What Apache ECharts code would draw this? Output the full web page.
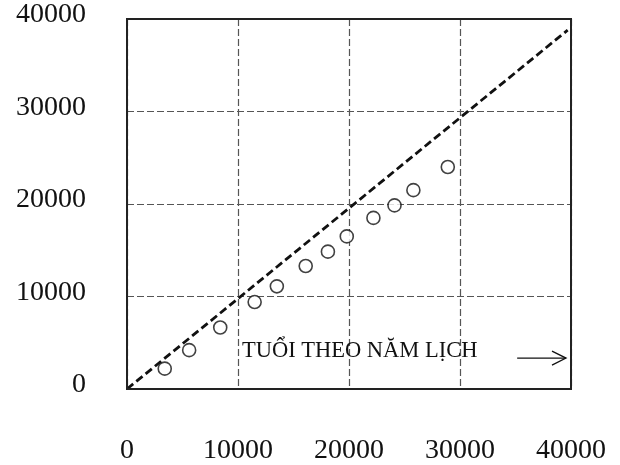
<!DOCTYPE html>
<html>
<head>
<meta charset="utf-8">
<script src="https://cdn.jsdelivr.net/npm/echarts@6/dist/echarts.min.js"></script>
<style>html,body{margin:0;padding:0;background:#fff}#c{width:620px;height:465px}</style>
</head>
<body>
<div id="c"></div>
<script>
// Data
const xTicks = [0, 10000, 20000, 30000, 40000];
const yTicks = [0, 10000, 20000, 30000, 40000];
const pointsX = [3400, 5600, 8400, 11500, 13500, 16100, 18100, 19800, 22200, 24100, 25800, 28900];
const pointsY = [2200, 4200, 6650, 9400, 11100, 13300, 14850, 16500, 18500, 19850, 21500, 24000];
const diagonalX = [0, 39700];
const diagonalY = [0, 38800];
const annotationText = 'TUỔI THEO NĂM LỊCH';
const annotationAt = [10350, 4100];
const arrowFrom = [35150, 3340];
const arrowTo = [39550, 3340];

const FONT = '"Liberation Serif", "DejaVu Serif", serif';
const chart = echarts.init(document.getElementById('c'), null, {renderer: 'canvas'});
const plain = v => String(v);

const option = {
  animation: false,
  backgroundColor: '#fff',
  grid: {left: 127, right: 49, top: 19, bottom: 75, containLabel: false},
  xAxis: {
    type: 'value', min: xTicks[0], max: xTicks[xTicks.length - 1], interval: xTicks[1] - xTicks[0],
    axisLine: {show: true, lineStyle: {color: '#222', width: 2}},
    axisTick: {show: false},
    axisLabel: {color: '#111', fontFamily: FONT, fontSize: 28, margin: 48, formatter: plain, showMinLabel: true, showMaxLabel: true},
    splitLine: {show: true, lineStyle: {color: '#555', width: 1.2, type: [7, 3]}}
  },
  yAxis: {
    type: 'value', min: yTicks[0], max: yTicks[yTicks.length - 1], interval: yTicks[1] - yTicks[0],
    axisLine: {show: true, lineStyle: {color: '#222', width: 2}},
    axisTick: {show: false},
    axisLabel: {
      color: '#111', fontFamily: FONT, fontSize: 28, margin: 41, showMinLabel: true, showMaxLabel: true,
      formatter: v => '{a|' + v + '}',
      rich: {a: {fontFamily: FONT, fontSize: 28, color: '#111', padding: [0, 0, 8, 0]}}
    },
    splitLine: {show: true, lineStyle: {color: '#555', width: 1.2, type: [7, 3]}}
  },
  series: [
    {
      type: 'line',
      data: diagonalX.map((x, i) => [x, diagonalY[i]]),
      symbol: 'none',
      lineStyle: {color: '#111', width: 2.8, type: [8, 4]},
      z: 3
    },
    {
      type: 'scatter',
      data: pointsX.map((x, i) => [x, pointsY[i]]),
      symbol: 'circle',
      symbolSize: 13,
      itemStyle: {color: '#fff', borderColor: '#111', borderWidth: 1.6},
      z: 4
    }
  ]
};
chart.setOption(option);

function drawExtras() {
  const gr = chart.getModel().getComponent('grid').coordinateSystem.getRect();
  const t = chart.convertToPixel({gridIndex: 0}, annotationAt);
  const a0 = chart.convertToPixel({gridIndex: 0}, arrowFrom);
  const a1 = chart.convertToPixel({gridIndex: 0}, arrowTo);
  chart.setOption({
    graphic: [
      {type: 'rect', silent: true, z: 10,
       shape: {x: gr.x, y: gr.y, width: gr.width, height: gr.height},
       style: {fill: 'none', stroke: '#222', lineWidth: 2}},
      {type: 'text', silent: true, z: 10, x: t[0], y: t[1],
       style: {text: annotationText, font: '22.5px ' + FONT, fill: '#111', verticalAlign: 'middle'}},
      {type: 'line', silent: true, z: 10,
       shape: {x1: a0[0], y1: a0[1], x2: a1[0], y2: a1[1]},
       style: {stroke: '#111', lineWidth: 1.3}},
      {type: 'polyline', silent: true, z: 10,
       shape: {points: [[a1[0] - 14, a1[1] - 7], [a1[0], a1[1]], [a1[0] - 14, a1[1] + 7]]},
       style: {stroke: '#111', lineWidth: 1.3, fill: 'none'}}
    ]
  });
}
drawExtras();
</script>
</body>
</html>
